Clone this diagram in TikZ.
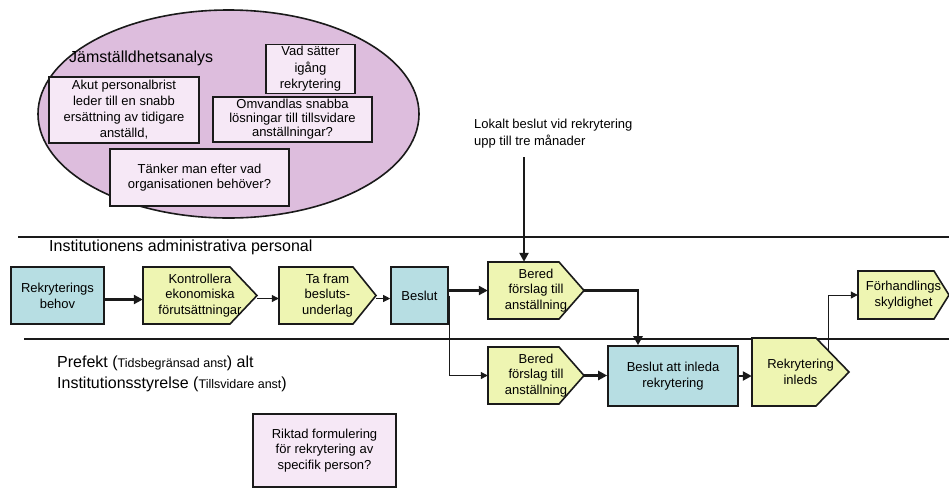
\documentclass[tikz,border=0pt]{standalone}
\usepackage{fontspec}
\setmainfont{Liberation Sans}
\usetikzlibrary{arrows.meta}
\definecolor{lilac}{HTML}{DDBDDD}
\definecolor{palelilac}{HTML}{F6E8F6}
\definecolor{paleblue}{HTML}{B7DEE3}
\definecolor{paleyellow}{HTML}{EEF5B2}
\definecolor{edge}{HTML}{1A1A1A}

% pentagon step: name, left x, end of straight part, tip x, top y, bottom y, text
\newcommand\chevbox[7]{%
  \draw[chevshape] (#2,#5) -- (#3,#5) -- (#4,{(#5+#6)/2}) -- (#3,#6) -- (#2,#6) -- cycle;
  \pgfmathsetmacro\cbw{#4-#2}%
  \pgfmathsetmacro\cbh{#6-#5}%
  \node[chevtext, minimum width=\cbw pt, minimum height=\cbh pt] (#1) at ({(#2+#4)/2},{(#5+#6)/2}) {#7};%
}

\begin{document}
\begin{tikzpicture}[x=1pt,y=-1pt,
  box/.style={draw=edge, line width=1.6pt, align=center, inner sep=2pt,
    font=\fontsize{13}{15.5}\selectfont},
  pinkbox/.style={box, fill=palelilac},
  bluebox/.style={box, fill=paleblue},
  chevtext/.style={align=center, inner sep=0pt, font=\fontsize{13}{15.5}\selectfont},
  chevshape/.style={draw=edge, line width=1.6pt, fill=paleyellow, line join=miter},
  thickarrow/.style={draw=edge, line width=2.4pt, -{Triangle[length=9pt,width=9pt]}},
  thinarrow/.style={draw=edge, line width=1pt, -{Triangle[length=7pt,width=7pt]}},
  lane/.style={draw=edge, line width=1.5pt},
  lbl/.style={inner sep=0pt, anchor=west, align=left}
]
\useasboundingbox (0,0) rectangle (949,491);

% analysis ellipse with its questions
\draw[fill=lilac, draw=edge, line width=1.6pt] (228.5,114) ellipse [x radius=190.5pt, y radius=104pt];
\node[lbl, font=\fontsize{16}{18}\selectfont] (jam) at (69,58) {Jämställdhetsanalys};
\node[pinkbox, minimum width=89pt, minimum height=48pt, font=\fontsize{13}{16.5}\selectfont] (vad) at (310.5,69) {Vad sätter\\igång\\rekrytering};
\node[pinkbox, minimum width=150pt, minimum height=66pt, font=\fontsize{13}{16}\selectfont] (akut) at (124,110) {Akut personalbrist\\leder till en snabb\\ersättning av tidigare\\anställd,};
\node[pinkbox, minimum width=159pt, minimum height=45pt, font=\fontsize{13}{14}\selectfont] (omv) at (292.5,119.5) {Omvandlas snabba\\lösningar till tillsvidare\\anställningar?};
\node[pinkbox, minimum width=179pt, minimum height=57pt] (tank) at (199.5,177.5) {Tänker man efter vad\\organisationen behöver?};

% swim lanes
\draw[lane] (18,237) -- (949,237);
\draw[lane] (24,339) -- (949,339);
\node[lbl, font=\fontsize{16}{18}\selectfont] (lane1) at (49,247) {Institutionens administrativa personal};
\node[lbl, font=\fontsize{16}{21}\selectfont] (lane2) at (57,373.5)
  {Prefekt ({\fontsize{12.5}{15}\selectfont Tidsbegränsad anst}) alt\\Institutionsstyrelse ({\fontsize{12.5}{15}\selectfont Tillsvidare anst})};
\node[lbl, font=\fontsize{13}{17}\selectfont] (lok) at (474,133.5) {Lokalt beslut vid rekrytering\\upp till tre månader};

% process steps
\node[bluebox, minimum width=93pt, minimum height=57pt, font=\fontsize{13}{16}\selectfont] (rb) at (57.5,295.5) {Rekryterings\\behov};
\chevbox{kon}{143}{230}{257}{267}{324}{Kontrollera\\ekonomiska\\förutsättningar}
\chevbox{taf}{279}{353}{376}{267}{324}{Ta fram\\besluts-\\underlag}
\node[bluebox, minimum width=57pt, minimum height=57pt] (bes) at (419.5,295.5) {Beslut};
\chevbox{bf1}{488}{559}{584}{262}{319}{Bered\\förslag till\\anställning}
\chevbox{bf2}{488}{559}{584}{347}{404}{Bered\\förslag till\\anställning}
\node[bluebox, minimum width=130pt, minimum height=60pt, font=\fontsize{13}{16}\selectfont] (bai) at (673,376) {Beslut att inleda\\rekrytering};
\chevbox{ri}{752}{816}{849}{338}{406}{Rekrytering\\inleds}
\chevbox{fh}{858}{934}{949}{271}{319}{Förhandlings\\skyldighet}
\node[pinkbox, minimum width=143pt, minimum height=73pt] (rik) at (324.5,450.5) {Riktad formulering\\för rekrytering av\\specifik person?};

% connectors
\coordinate (lokstart) at (524,157);
\draw[thickarrow] (lokstart) -- (lokstart |- bf1.north);
\draw[thickarrow] ([yshift=-4pt]rb.east) -- ([yshift=-4pt]kon.west);
\draw[thinarrow] ([yshift=-3pt]kon.east) -- ([yshift=-3pt]taf.west);
\draw[thinarrow] ([yshift=-3pt]taf.east) -- ([yshift=-3pt]bes.west);
\draw[thickarrow] (bes.east |- bf1.west) -- (bf1.west);
\draw[thinarrow] ([xshift=1pt]bes.east) |- (bf2.west);
\draw[thickarrow] (bf1.east) -| ([xshift=-35pt]bai.north);
\draw[thickarrow] (bf2.east) -- (bf2.east -| bai.west);
\draw[thickarrow] (bai.east) -- (bai.east -| ri.west);
\draw[thinarrow] ([shift={(27.5pt,-12pt)}]ri.north) |- (fh.west);
\end{tikzpicture}
\end{document}
